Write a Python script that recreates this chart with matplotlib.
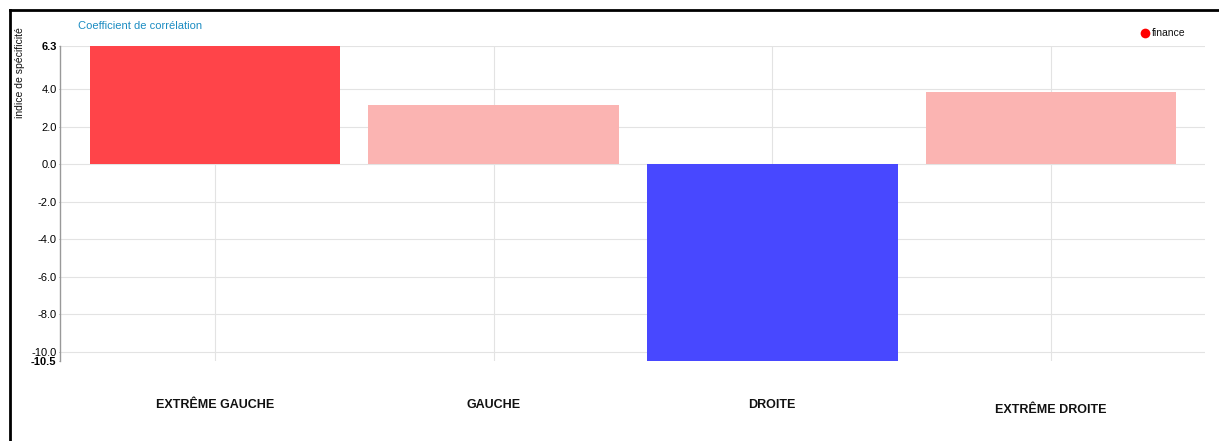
import matplotlib
matplotlib.use("Agg")
import matplotlib.pyplot as plt
from matplotlib.lines import Line2D
from matplotlib.transforms import blended_transform_factory

categories = ["EXTRÊME GAUCHE", "GAUCHE", "DROITE", "EXTRÊME DROITE"]
values = [6.3, 3.15, -10.5, 3.85]
bar_colors = ["#ff4449", "#fbb4b2", "#4848ff", "#fbb4b2"]
y_ticks = [-10.5, -10.0, -8.0, -6.0, -4.0, -2.0, 0.0, 2.0, 4.0, 6.3]
series_name = "finance"

plt.rcParams['font.family'] = ['Liberation Sans', 'DejaVu Sans']

W, H = 1219, 441
fig = plt.figure(figsize=(W / 100, H / 100), dpi=100)

# axes box in pixels: x 60..1205, y 46..361
ax = fig.add_axes([60 / W, 1 - 361 / H, (1205 - 60) / W, (361 - 46) / H])

x = list(range(len(categories)))
ax.bar(x, values, width=0.9, color=bar_colors, zorder=2)

ax.set_xlim(-0.556, 3.553)
ax.set_ylim(min(y_ticks), max(y_ticks))

ax.set_yticks(y_ticks)
ax.set_yticklabels([f"{v:.1f}" for v in y_ticks], fontsize=8)
for lbl, v in zip(ax.get_yticklabels(), y_ticks):
    if v in (min(y_ticks), max(y_ticks)):
        lbl.set_fontweight("bold")
ax.tick_params(axis="y", length=1, width=0.6, color="#888888", pad=1.5)

# horizontal grid
for v in y_ticks:
    if v != min(y_ticks):
        ax.axhline(v, color="#e3e3e3", lw=0.8, zorder=0)
# vertical grid at category centres
for xi in x:
    ax.axvline(xi, color="#e3e3e3", lw=0.8, zorder=0)

ax.set_xticks([])
for s in ["top", "right", "bottom"]:
    ax.spines[s].set_visible(False)
ax.spines["left"].set_color("#999999")
ax.spines["left"].set_linewidth(1.0)

# category labels below the plot
trans = blended_transform_factory(ax.transData, fig.transFigure)
label_y = [405, 405, 405, 410]
for xi, name, py in zip(x, categories, label_y):
    ax.text(xi, 1 - py / H, name, transform=trans,
            ha="center", va="center", fontsize=9, fontweight="bold", color="#111111")

fig.text(20 / W, 1 - 73 / H, "indice de spécificité", rotation=90, ha="center", va="center",
         fontsize=7.5, color="#111111")
fig.text(78 / W, 1 - 26 / H, "Coefficient de corrélation", ha="left", va="center",
         fontsize=8, color="#1b8cc2")

# legend marker
fig.add_artist(Line2D([1145 / W], [1 - 33 / H], marker="o", markersize=7, color="#ff0000",
                      markeredgewidth=0, linestyle="none"))
fig.text(1152 / W, 1 - 33 / H, series_name, ha="left", va="center", fontsize=7.5, color="#111111")

# frame of the screenshot (top and left edges)
fig.add_artist(Line2D([10 / W, 1], [1 - 10 / H, 1 - 10 / H], color="black", lw=2))
fig.add_artist(Line2D([10 / W, 10 / W], [1 - 10 / H, 0], color="black", lw=2))

fig.savefig("out.png", dpi=100)
